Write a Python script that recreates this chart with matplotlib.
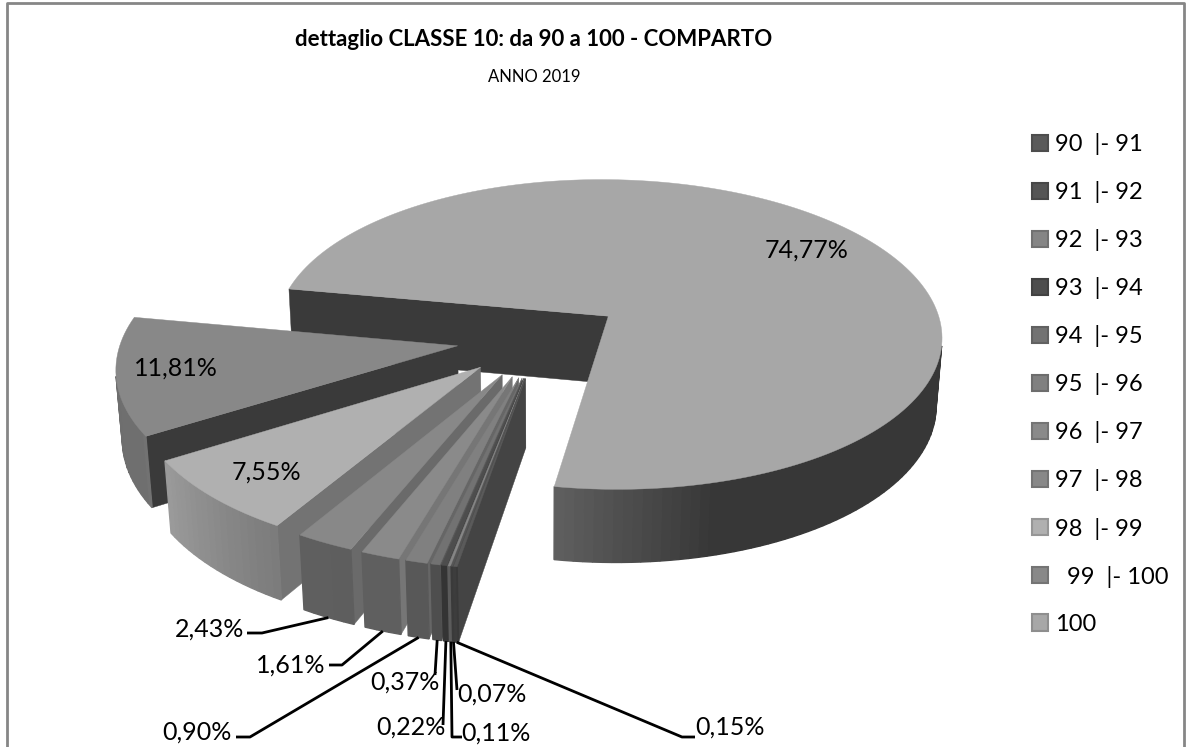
#!/usr/bin/env python3
"""Exploded 3D pie, detail of class 10 (grayscale)."""

import numpy as np
import matplotlib

matplotlib.use("Agg")
import matplotlib.pyplot as plt
from matplotlib.patches import Patch, Polygon

plt.rcParams["font.family"] = ["Lato", "DejaVu Sans"]

# slices in drawing order around the pie, clockwise
categories = ["90  |- 91", "91  |- 92", "92  |- 93", "93  |- 94", "94  |- 95", "95  |- 96",
              "96  |- 97", "97  |- 98", "98  |- 99", "  99  |- 100", "100"]
values = [0.15, 0.07, 0.11, 0.22, 0.37, 0.90, 1.61, 2.43, 7.55, 11.81, 74.77]

top_colors = ["#5a5a5a", "#555555", "#858585", "#4d4d4d", "#727272", "#808080",
              "#8a8a8a", "#888888", "#b0b0b0", "#888888", "#a7a7a7"]
side_colors = ["#444444", "#3c3c3c", "#6a6a6a", "#383838", "#585858", "#666666",
               "#767676", "#6a6a6a", "#737373", "#3a3a3a", "#3a3a3a"]

# light on the rim depending on azimuth
light_az = [0, 165, 189.6, 190, 211, 238, 239, 281, 360]
light_val = [0.33, 0.33, 0.57, 0.68, 0.70, 0.88, 0.82, 0.80, 0.33]

START_AZ = 189.7
EXPLODE = 0.25
CX, CY, A, B, H = 540.6, 338.4, 336.0, 158.0, 69.0
K, M = 0.12, 0.015

# label anchor and leader elbow, pixels (small slices only)
small_labels = {
    7: ((210, 629), [(262, 633), (247, 633)]),
    6: ((291, 665), [(342, 665), (329, 665)]),
    5: ((197, 732), [(250, 737), (236, 737)]),
    4: ((405, 682), [(435, 675)]),
    3: ((411, 727), [(443, 725)]),
    2: ((496, 733), [(452, 737), (462, 737)]),
    1: ((492, 694), [(457, 690)]),
    0: ((730, 727), [(682, 737), (695, 737)]),
}
big_labels = {10: (807, 250), 9: (176, 368), 8: (266, 472)}


def project(x, y, d):
    s = 1.0 / (1.0 + K * y + M * d)
    return CX + A * x * s, CY - (B * y - H * d) * s


def area(pts):
    x, y = np.array(pts).T
    return np.sum(x * np.roll(y, -1) - np.roll(x, -1) * y)


def shade(color, f):
    rgb = np.array(matplotlib.colors.to_rgb(color)) * f
    return tuple(np.clip(rgb, 0, 1))


def draw_slice(ax, az0, az1, top, side):
    mid = np.radians((az0 + az1) / 2)
    ox, oy = EXPLODE * np.sin(mid), EXPLODE * np.cos(mid)
    n = max(2, int((az1 - az0) / 1.5))
    az = np.linspace(az0, az1, n + 1)
    rx = ox + np.sin(np.radians(az))
    ry = oy + np.cos(np.radians(az))

    # radial walls
    for i, sign in ((0, -1), (-1, 1)):
        quad = [project(ox, oy, 0), project(rx[i], ry[i], 0),
                project(rx[i], ry[i], 1), project(ox, oy, 1)]
        if area(quad) * sign > 0:
            ax.add_patch(Polygon(quad, fc=side, ec=side, lw=0.3))

    # rim, only the part turned to the viewer
    for j in range(n):
        quad = [project(rx[j], ry[j], 0), project(rx[j + 1], ry[j + 1], 0),
                project(rx[j + 1], ry[j + 1], 1), project(rx[j], ry[j], 1)]
        if area(quad) > 0:
            continue
        f = np.interp((az[j] + az[j + 1]) / 2 % 360, light_az, light_val)
        c = shade(top, f)
        ax.add_patch(Polygon(quad, fc=c, ec=c, lw=1.0, joinstyle="bevel"))

    pts = [project(ox, oy, 0)] + [project(a, b, 0) for a, b in zip(rx, ry)]
    ax.add_patch(Polygon(pts, fc=top, ec=top, lw=0.3))
    return project(ox + np.sin(mid), oy + np.cos(mid), 1)


def main() -> None:
    fig = plt.figure(figsize=(11.86, 7.47), dpi=100)
    ax = fig.add_axes([0, 0, 1, 1])
    ax.set_xlim(0, 1186)
    ax.set_ylim(747, 0)
    ax.axis("off")

    # chart frame, open at the bottom as in the crop
    ax.plot([7, 7, 1184, 1184], [747, 3, 3, 747], color="#868686", lw=2)

    spans = np.array(values) / sum(values) * 360
    starts = START_AZ + np.concatenate(([0], np.cumsum(spans)[:-1]))

    rims = {}
    for i in range(len(values) - 1, -1, -1):
        rims[i] = draw_slice(ax, starts[i], starts[i] + spans[i], top_colors[i], side_colors[i])

    for i, (pos, elbow) in small_labels.items():
        xs, ys = zip(*([rims[i]] + elbow))
        ax.plot(xs, ys, color="black", lw=2, solid_capstyle="butt")
        text = f"{values[i]:.2f}".replace(".", ",") + "%"
        ax.text(pos[0], pos[1], text, fontsize=18, ha="center", va="center")
    for i, pos in big_labels.items():
        text = f"{values[i]:.2f}".replace(".", ",") + "%"
        ax.text(pos[0], pos[1], text, fontsize=18, ha="center", va="center")

    ax.text(534, 39, "dettaglio CLASSE 10: da 90 a 100 - COMPARTO", fontsize=16,
            fontweight="bold", ha="center", va="center")
    ax.text(534, 77, "ANNO 2019", fontsize=12, ha="center", va="center")

    handles = [Patch(fc=c, ec=shade(c, 0.85), lw=1.5) for c in top_colors]
    ax.legend(handles, categories, loc="upper left", bbox_to_anchor=(1032 / 1186, 1 - 133 / 747),
              frameon=False, fontsize=17, handlelength=0.68, handleheight=0.68,
              handletextpad=0.3, labelspacing=1.104, borderpad=0, borderaxespad=0)

    fig.savefig("out.png", dpi=100)


if __name__ == "__main__":
    main()
